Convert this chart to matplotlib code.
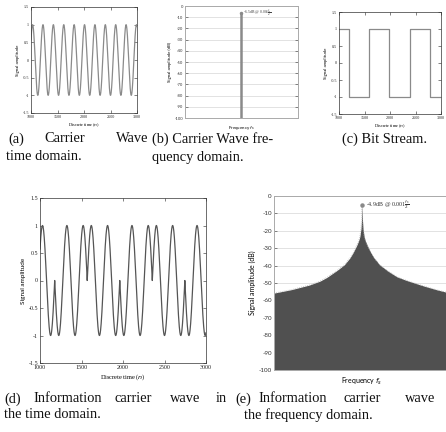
import numpy as np
import matplotlib
matplotlib.use("Agg")
import matplotlib.pyplot as plt

plt.rcParams["axes.unicode_minus"] = False

# ---------------- data ----------------
time_start, time_end = 1000, 3000
time_ticks = [1000, 1500, 2000, 2500, 3000]
amp_ticks = [-1.5, -1, -0.5, 0, 0.5, 1, 1.5]
amp_ticklabels = ["-1.5", "-1", "-0.5", "0", "0.5", "1", "1.5"]
db_ticks = [0, -10, -20, -30, -40, -50, -60, -70, -80, -90, -100]

# carrier wave: period and an upward zero crossing
carrier_period = 196
carrier_zero_up = 1177

# bit stream as drawn in panel (c)
bit_edges_c = [1000, 1195, 1595, 1990, 2385, 2775, 3000]
bit_values_c = [1, -1, 1, -1, 1, -1]

# bit changes visible as cusps in panel (d)
bit_edges_d = [1000, 1177, 1569, 1961, 2353, 2745, 3000]
bit_values_d = [1, -1, 1, -1, 1, -1]

# carrier spectrum (panel b)
carrier_freq = 0.0
carrier_peak_db = -6.0
carrier_label = r"-6.5dB @ 0.005$\frac{f_s}{2}$"

# information carrier spectrum envelope (panel e)
info_freq = [-1.0, -0.8, -0.6, -0.48, -0.4, -0.29, -0.2, -0.136, -0.1, -0.061, -0.04,
             -0.025, -0.012, -0.005, 0.0, 0.005, 0.012, 0.025, 0.04, 0.061, 0.1,
             0.136, 0.2, 0.29, 0.4, 0.51, 0.7, 0.85, 1.0]
info_db = [-55.8, -53.8, -51.2, -49.0, -46.8, -43.0, -39.5, -35.5, -32.5, -28.5, -26.0,
           -23.5, -19.0, -13.5, -4.9, -13.5, -19.0, -23.5, -26.0, -28.5, -32.5,
           -35.5, -39.5, -43.0, -46.5, -48.6, -51.7, -53.9, -55.8]
info_label = r"-4.9dB @ 0.001$\frac{f_s}{2}$"

# ---------------- figure ----------------
W, H = 446, 432
fig = plt.figure(figsize=(W / 100, H / 100), dpi=100)
SERIF = "Liberation Serif"
SANS = "Lato"


def ax_at(l, t, r, b):
    return fig.add_axes([l / W, 1 - b / H, (r - l) / W, (b - t) / H])


def ftext(x, y, s, **kw):
    fig.text(x / W, 1 - y / H, s, **kw)


def time_axes(ax, fs_tick, fs_lab):
    ax.set_xlim(time_start, time_end)
    ax.set_ylim(-1.5, 1.5)
    ax.set_xticks(time_ticks)
    ax.set_yticks(amp_ticks)
    ax.set_yticklabels(amp_ticklabels)
    ax.tick_params(direction="in", length=2, width=0.4, top=True, right=True,
                   labelsize=fs_tick, pad=1.5, colors="#222")
    for lab in ax.get_xticklabels() + ax.get_yticklabels():
        lab.set_family(SERIF)
    for s in ax.spines.values():
        s.set_linewidth(0.5)
        s.set_color("#333")
    ax.set_xlabel("Discrete time ($n$)", fontsize=fs_lab, family=SERIF, labelpad=1.5)
    ax.set_ylabel("Signal amplitude", fontsize=fs_lab, family=SANS, labelpad=2)


def db_axes(ax, fs_tick, fs_lab):
    ax.set_ylim(-100, 0)
    ax.set_xlim(-1, 1)
    ax.set_yticks(db_ticks)
    ax.set_xticks([])
    ax.grid(axis="y", color="#e2e2e2", linewidth=0.7, zorder=0)
    ax.set_axisbelow(True)
    ax.tick_params(axis="y", direction="in", length=2, width=0.4, right=True,
                   labelsize=fs_tick, pad=1.5, colors="#333")
    for lab in ax.get_yticklabels():
        lab.set_family(SANS)
    for s in ax.spines.values():
        s.set_linewidth(0.7)
        s.set_color("#aaaaaa")
    ax.set_xlabel("Frequency $f_s$", fontsize=fs_lab, family=SANS, labelpad=4)
    ax.set_ylabel("Signal amplitude (dB)", fontsize=fs_lab, family=SANS, labelpad=2)


n = np.arange(time_start, time_end + 1)
carrier = np.sin(2 * np.pi * (n - carrier_zero_up) / carrier_period)
idx_d = np.clip(np.searchsorted(bit_edges_d, n, side="right") - 1, 0, len(bit_values_d) - 1)
info_wave = carrier * np.asarray(bit_values_d)[idx_d]

# (a) carrier in time domain
ax_a = ax_at(31, 7, 137, 113)
ax_a.plot(n, carrier, color="#8a8a8a", linewidth=0.9)
time_axes(ax_a, 3.0, 3.2)

# (b) carrier spectrum
ax_b = ax_at(185, 6, 298, 118)
db_axes(ax_b, 3.0, 3.2)
ax_b.vlines(carrier_freq, -100, carrier_peak_db, color="#8a8a8a", linewidth=1.8, zorder=3)
ax_b.plot([carrier_freq], [carrier_peak_db], "o", ms=1.5, color="#8a8a8a", zorder=4)
ax_b.text(carrier_freq + 0.03, carrier_peak_db, carrier_label, fontsize=2.8,
          family=SERIF, va="center", ha="left", color="#444")

# (c) bit stream
ax_c = ax_at(339, 12, 441, 114)
ax_c.step(bit_edges_c, bit_values_c + [bit_values_c[-1]], where="post",
          color="#8a8a8a", linewidth=0.9)
time_axes(ax_c, 3.0, 3.2)

# (d) information carrier wave, time domain
ax_d = ax_at(40, 198, 206, 363)
ax_d.plot(n, info_wave, color="#555555", linewidth=0.9)
time_axes(ax_d, 4.3, 4.6)

# (e) information carrier wave, frequency domain
ax_e = ax_at(274, 196, 450, 370)
db_axes(ax_e, 4.5, 5.0)
ax_e.fill_between(info_freq, -100, info_db, color="#505050", linewidth=0, zorder=2)
ax_e.plot(info_freq, info_db, color="#b0b0b0", linewidth=0.6,
          linestyle=(0, (0.8, 1.6)), zorder=3)
ax_e.plot([0.0], [info_db[info_freq.index(0.0)]], "o", ms=2.2, color="#8a8a8a", zorder=4)
ax_e.text(0.045, info_db[info_freq.index(0.0)], info_label, fontsize=4.3,
          family=SERIF, va="center", ha="left", color="#333")

# ---------------- captions ----------------
cap = dict(fontsize=10.4, family=SERIF, va="center", ha="left", color="#111")
# row 1
ftext(8, 139, "(a)", **cap)
ftext(44, 139, "Carrier", **cap)
ftext(116, 139, "Wave", **cap)
ftext(6, 157, "time domain.", **cap)
ftext(152, 139, "(b) Carrier Wave fre-", **cap)
ftext(152, 157, "quency domain.", **cap)
ftext(342, 139, "(c) Bit Stream.", **cap)
# row 2
ftext(4, 399, "(d)", **cap)
ftext(33, 399, "Information", **cap)
ftext(114, 399, "carrier", **cap)
ftext(170, 399, "wave", **cap)
ftext(216, 399, "in", **cap)
ftext(4, 415, "the time domain.", **cap)
ftext(235, 399, "(e)", **cap)
ftext(258, 399, "Information", **cap)
ftext(344, 399, "carrier", **cap)
ftext(405, 399, "wave", **cap)
ftext(244, 415, "the frequency domain.", **cap)

fig.savefig("out.png", dpi=100)
